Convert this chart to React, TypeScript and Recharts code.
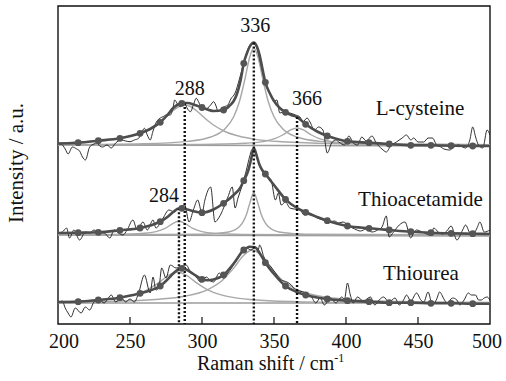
import React from "react";
import { ComposedChart, Line, XAxis, YAxis, ReferenceLine, ReferenceArea } from "recharts";

type Pair = [number, number];

const xTicks = [200, 250, 300, 350, 400, 450, 500];
const yTicks = [92, 171];
// fitted-curve sample points that carry a marker
const markerX = [214, 228, 243, 257, 271, 286, 300, 315, 329, 344, 358, 372, 387, 401, 416, 430, 445, 459, 473, 488];

// ---- L-cysteine (top), heights above its own baseline
const cysRaw: Pair[] = [
  [200, 1], [202, 1], [205, -4], [207, -9], [210, -2], [213, -4], [215, -6], [217, -12], [219, -15], [222, -2],
  [225, 1], [227, 2], [229, -1], [231, -2], [234, 0], [237, -3], [240, 2], [244, 5], [247, 4], [250, 3.3],
  [253, 5], [256, 6.7], [258, 12], [260, 16.7], [262, 10], [264, 5], [266, 14], [268, 22], [271, 27], [273, 28.3],
  [275, 30], [278, 30], [280, 38], [281, 45], [283, 41], [285, 38.3], [288, 41], [290, 36], [292, 33.3], [294, 40],
  [296, 46.7], [298, 42], [300, 35], [302, 36], [304, 37], [306, 40], [308, 43.3], [310, 38], [311, 33.3], [313, 36],
  [315, 38], [318, 40], [320, 46], [323, 52], [326, 66], [329, 82], [332, 96], [334, 101], [336, 101], [338, 97],
  [340, 86], [342, 73], [344, 62], [347, 52], [350, 44], [352, 45], [354, 32], [357, 33], [361, 32], [365, 30],
  [368, 28], [370, 23], [373, 27], [375, 23], [378, 15], [381, 18], [384, 15], [387, -8], [390, 2], [393, 5],
  [395, 3], [399, 0], [402, 9], [405, 2], [408, 0], [411, 8], [414, 4], [418, 9], [421, 2], [425, -4],
  [428, -7], [431, -1], [435, 3], [439, 7], [442, 10], [445, 5], [447, 7], [450, 3], [454, 3], [457, 7],
  [460, 7], [463, 0], [466, -2], [468, -4], [472, -5], [475, -2], [478, 0], [481, -2], [483, -3], [486, 5],
  [488, 18], [490, 8], [492, 0], [495, -3], [498, 15], [500, 10],
];
const cysFit: Pair[] = [
  [200, 1.5], [214, 2.3], [228, 4.3], [243, 6.7], [257, 11.7], [264, 16], [271, 22.7], [276, 30], [280, 37], [284, 41],
  [286, 41.7], [288, 42], [290, 42], [295, 40], [300, 37.5], [308, 34], [315, 35], [319, 39], [322, 44], [324, 50],
  [327, 66], [329, 81.7], [331, 91], [333, 98], [336, 102.5], [338, 99], [340, 90], [342, 76], [344, 62.7], [347, 52],
  [350, 44], [354, 37], [358, 32.7], [362, 30], [366, 28], [372, 20.7], [380, 13.5], [387, 9], [394, 6], [401, 3.7],
  [416, 2.3], [430, 1], [445, -0.3], [459, -0.3], [473, -0.7], [488, -1], [500, -1],
];
const cysMarks = [2.3, 4.3, 6.7, 11.7, 22.7, 41.7, 37.5, 35, 81.7, 62.7, 32.7, 20.7, 9, 3.7, 2.3, 1, -0.3, -0.3, -0.7, -1];
const cysBand288: Pair[] = [
  [200, 2], [220, 3.2], [240, 5.9], [250, 8.7], [260, 13.5], [268, 20], [274, 26.8], [280, 34.5], [284, 38.5], [288, 40],
  [292, 38.5], [296, 34.5], [302, 26.8], [308, 20], [316, 13.5], [326, 8.7], [336, 5.9], [356, 3.2], [376, 2], [420, 0.9], [500, 0.35],
];
const cysBand336: Pair[] = [
  [200, 0.4], [260, 1.3], [290, 3.6], [306, 8], [316, 16.3], [322, 28.3], [326, 43.5], [330, 67.2], [333, 87.3], [336, 97],
  [339, 87.3], [342, 67.2], [346, 43.5], [350, 28.3], [356, 16.3], [366, 8], [382, 3.6], [412, 1.3], [500, 0.3],
];
const cysBand366: Pair[] = [
  [200, 0.1], [300, 0.5], [330, 1.7], [342, 3.4], [350, 6.1], [356, 10], [362, 15.3], [366, 17], [370, 15.3], [376, 10],
  [382, 6.1], [390, 3.4], [402, 1.7], [432, 0.5], [500, 0.1],
];
const cysBase: Pair[] = [[200, 0], [500, -1]];

// ---- Thioacetamide (middle)
const thaRaw: Pair[] = [
  [200, 2], [203, 3], [206, 7], [208, -3], [211, 5], [215, -5], [219, 3], [222, 2], [225, 5], [228, 2],
  [232, 2], [236, -3], [239, 5], [242, 2], [245, 0], [248, 5], [252, 15], [255, 5], [259, 13], [262, 5],
  [266, 15], [268, 7], [273, 17], [277, 25], [281, 23], [284, 27], [288, 30], [291, 13], [294, 25], [297, 35],
  [300, 22], [302, 35], [306, 48], [309, 13], [312, 18], [318, 38], [321, 48], [323, 27], [325, 37], [328, 50],
  [331, 66], [333, 78], [335, 86], [337, 84], [339, 74], [341, 66], [344, 61], [346, 58], [348, 55], [351, 35],
  [353, 42], [355, 30], [358, 33], [361, 27], [364, 26], [368, 25], [371, 20], [375, 21], [380, 17], [384, 15],
  [388, 13], [392, 14], [395, 12], [398, 13], [402, 9], [406, 6], [410, 4], [414, 6], [418, 3], [422, 5],
  [425, 8], [428, 19], [430, -2], [433, 3], [437, 10], [441, 13], [445, -3], [447, 2], [449, 5], [453, 3],
  [456, 1], [459, 0], [461, 7], [464, 3], [467, 1], [470, 4], [473, 9], [477, -5], [481, 5], [483, 10],
  [486, 2], [488, 0], [491, 7], [493, 13], [496, 3], [500, 5],
];
const thaFit: Pair[] = [
  [200, 2], [214, 2.3], [228, 2.7], [243, 4.7], [257, 7], [264, 9.5], [271, 13.3], [276, 18], [280, 23], [284, 26.8],
  [286, 26.7], [290, 25.5], [295, 23.5], [300, 22.3], [308, 25.5], [315, 31.7], [322, 40], [326, 46], [329, 54.3], [332, 64],
  [334, 75], [336, 87], [338, 79], [340, 70], [342, 64.5], [344, 61], [350, 50], [358, 35.7], [366, 27], [372, 22.7],
  [380, 18], [387, 14.3], [394, 11.3], [401, 9], [416, 6.7], [430, 5], [445, 3.3], [459, 2.3], [473, 1.7], [488, 1.3], [500, 1],
];
const thaMarks = [2.3, 2.7, 4.7, 7, 13.3, 26.7, 22.3, 31.7, 54.3, 61, 35.7, 22.7, 14.3, 9, 6.7, 5, 3.3, 2.3, 1.7, 1.3];
const thaBand284: Pair[] = [
  [200, 0.2], [240, 0.6], [260, 1.7], [268, 3.4], [274, 6.3], [280, 11.7], [284, 14], [288, 11.7], [294, 6.3], [300, 3.4],
  [308, 1.7], [328, 0.6], [400, 0.1], [500, 0],
];
const thaBand336: Pair[] = [
  [200, 0], [300, 0.8], [316, 2.5], [324, 6.2], [328, 11.8], [331, 21], [333, 30.9], [336, 42], [339, 30.9], [341, 21],
  [344, 11.8], [348, 6.2], [356, 2.5], [372, 0.8], [500, 0],
];
const thaBase: Pair[] = [[200, 0], [500, -1]];

// ---- Thiourea (bottom)
const thuRaw: Pair[] = [
  [200, 0], [203, 2], [205, -5], [207, -10], [209, -14], [212, -5], [216, -10], [219, -4], [222, -7], [225, 1],
  [229, 3], [232, 0], [235, 5], [237, 8], [240, 1], [244, 5], [247, 1], [250, 4], [253, 1], [256, 10],
  [260, 28], [264, 10], [266, 26], [268, 13], [270, 15], [272, 35], [275, 25], [278, 38], [282, 35], [285, 36],
  [289, 38], [292, 31], [296, 26], [299, 21], [303, 26], [306, 22], [308, 21], [312, 30], [315, 25], [318, 30],
  [321, 36], [324, 43], [328, 53], [331, 55], [334, 53], [337, 56], [339, 53], [340, 58], [343, 46], [345, 41],
  [348, 36], [352, 28], [355, 23], [359, 21], [362, 18], [365, 13], [368, 12], [372, 10], [376, 6], [379, 0],
  [382, 5], [385, -2], [389, 5], [393, 0], [397, 6], [399, 4], [401, 20], [403, 8], [405, 0], [408, 6],
  [412, 2], [417, 6], [420, -2], [423, 3], [426, 6], [430, 1], [434, 5], [437, -2], [440, 3], [442, 8],
  [445, 2], [449, 10], [452, 3], [454, 1], [457, 11], [460, -2], [463, 4], [465, 11], [468, 4], [470, 0],
  [474, 5], [477, 3], [479, -2], [482, 3], [485, 10], [487, 8], [490, 8], [492, 3], [494, 3], [496, 5],
  [498, 6], [500, 3],
];
const thuFit: Pair[] = [
  [200, 1], [214, 1.3], [228, 3], [243, 5.3], [257, 9.7], [264, 12.5], [271, 17], [276, 23.5], [280, 29.5], [284, 34],
  [286, 34.7], [289, 33.5], [294, 29], [300, 23.7], [304, 22.8], [308, 23.5], [315, 28], [322, 39.5], [329, 53], [333, 56.3],
  [337, 55.5], [340, 50], [344, 40.3], [350, 29], [358, 17], [365, 11.5], [372, 8], [380, 5.5], [387, 4], [401, 2.3],
  [416, 1.3], [430, 0.3], [445, 0.3], [459, -0.3], [473, -0.3], [488, -0.7], [500, -0.7],
];
const thuMarks = [1.3, 3, 5.3, 9.7, 17, 34.7, 23.7, 28, 53, 40.3, 17, 8, 4, 2.3, 1.3, 0.3, 0.3, -0.3, -0.3, -0.7];
const thuBand283: Pair[] = [
  [200, 1.4], [220, 2.3], [240, 4.6], [252, 7.8], [262, 13.1], [270, 20.4], [277, 27.9], [283, 31], [289, 27.9], [296, 20.4],
  [304, 13.1], [314, 7.8], [326, 4.6], [346, 2.3], [366, 1.4], [420, 0.5], [500, 0.2],
];
const thuBand335: Pair[] = [
  [200, 0.9], [240, 1.8], [270, 3.8], [287, 6.5], [304, 13.4], [314, 22.5], [322, 34.9], [329, 47.7], [335, 53], [341, 47.7],
  [348, 34.9], [356, 22.5], [366, 13.4], [383, 6.5], [400, 3.8], [430, 1.8], [500, 0.6],
];
const thuBase: Pair[] = [[200, 0], [500, 0]];

const spectra = [
  { key: "cys", offset: 179, raw: cysRaw, fit: cysFit, marks: cysMarks, bands: [cysBand288, cysBand336, cysBand366], base: cysBase },
  { key: "tha", offset: 89, raw: thaRaw, fit: thaFit, marks: thaMarks, bands: [thaBand284, thaBand336], base: thaBase },
  { key: "thu", offset: 21, raw: thuRaw, fit: thuFit, marks: thuMarks, bands: [thuBand283, thuBand335], base: thuBase },
];

// dotted peak markers: position, spectrum index, label nudge
const peaks = [
  { x: 288, s: 0, dx: 5, dy: 8 },
  { x: 336, s: 0, dx: 1.5, dy: 11 },
  { x: 366, s: 0, dx: 10, dy: 12 },
  { x: 284, s: 1, dx: -15, dy: 6.5 },
];

const SERIF = '"Liberation Serif", "DejaVu Serif", serif';
const txt = (size: number): React.CSSProperties => ({ fontFamily: SERIF, fontSize: size });
const rows = (pairs: Pair[], off: number) => pairs.map(([x, h]) => ({ x, y: off + h }));

function XTick({ x, y, payload }: any) {
  const v = payload.value;
  const nudge = v === 200 ? 6 : v === 500 ? -3 : 0.5;
  return (
    <g>
      {v !== 200 && v !== 500 && <line x1={x} x2={x} y1={y} y2={y - 7} stroke="#111" strokeWidth={1.2} />}
      <text x={x + nudge} y={y + 23.7} textAnchor="middle" style={txt(20)} fill="#111">
        {v}
      </text>
    </g>
  );
}

function YTick({ x, y }: any) {
  return <line x1={x} x2={x + 4} y1={y} y2={y} stroke="#111" strokeWidth={1.2} />;
}

export default function App() {
  return (
    <div style={{ position: "fixed", left: 0, top: 0, width: 506, height: 381, background: "#fff" }}>
      <ComposedChart width={506} height={381} margin={{ top: 6, right: 16, bottom: 27, left: 58 }}>
        <XAxis
          dataKey="x"
          type="number"
          domain={[200, 500]}
          ticks={xTicks}
          interval={0}
          height={30}
          axisLine={false}
          tickLine={false}
          tickSize={0}
          tickMargin={0}
          tick={<XTick />}
          allowDataOverflow
        />
        <YAxis
          type="number"
          domain={[0, 318]}
          ticks={yTicks}
          interval={0}
          width={0}
          axisLine={false}
          tickLine={false}
          tickSize={0}
          tickMargin={0}
          tick={<YTick />}
          allowDataOverflow
        />
        {spectra.map((sp) => [
          <Line key={sp.key + "-base"} data={rows(sp.base, sp.offset)} dataKey="y" type="linear" stroke="#9c9c9c" strokeWidth={1.6} dot={false} activeDot={false} isAnimationActive={false} />,
          ...sp.bands.map((b, i) => (
            <Line key={sp.key + "-band" + i} data={rows(b, sp.offset)} dataKey="y" type="monotone" stroke="#a8a8a8" strokeWidth={1.4} dot={false} activeDot={false} isAnimationActive={false} />
          )),
          <Line key={sp.key + "-raw"} data={rows(sp.raw, sp.offset)} dataKey="y" type="monotone" stroke="#1a1a1a" strokeWidth={0.9} dot={false} activeDot={false} isAnimationActive={false} />,
          <Line key={sp.key + "-fit"} data={rows(sp.fit, sp.offset)} dataKey="y" type="monotone" stroke="#4d4d4d" strokeWidth={2.6} dot={false} activeDot={false} isAnimationActive={false} />,
          <Line
            key={sp.key + "-marks"}
            data={markerX.map((x, i) => ({ x, y: sp.offset + sp.marks[i] }))}
            dataKey="y"
            stroke="none"
            dot={{ r: 3.4, fill: "#555", stroke: "#555", strokeWidth: 0 }}
            activeDot={false}
            isAnimationActive={false}
          />,
        ])}
        {peaks.map((p) => {
          const sp = spectra[p.s];
          const hit = sp.fit.find((f) => f[0] === p.x);
          const top = sp.offset + (hit ? hit[1] : 0);
          return (
            <ReferenceLine
              key={"peak" + p.x}
              segment={[{ x: p.x, y: top }, { x: p.x, y: 0 }]}
              stroke="#111"
              strokeWidth={2.4}
              strokeDasharray="2 2"
              label={(props: any) => (
                <text
                  x={props.viewBox.x + p.dx}
                  y={props.viewBox.y - p.dy}
                  textAnchor="middle"
                  style={txt(20)}
                  fill="#111"
                >
                  {p.x}
                </text>
              )}
            />
          );
        })}
        <ReferenceArea x1={200} x2={500} y1={0} y2={318} fill="none" fillOpacity={0} stroke="#111" strokeWidth={1.4} />
      </ComposedChart>
      <svg width={506} height={381} style={{ position: "absolute", left: 0, top: 0, pointerEvents: "none" }}>
        <g fill="#111">
          <text x={420} y={115} textAnchor="middle" style={txt(21)}>L-cysteine</text>
          <text x={420.5} y={206} textAnchor="middle" style={txt(21)}>Thioacetamide</text>
          <text x={421} y={280} textAnchor="middle" style={txt(21)}>Thiourea</text>
          <text x={197} y={370} style={txt(20)}>
            Raman shift / cm
            <tspan dy={-8} style={{ fontSize: 12 }}>-1</tspan>
          </text>
          <text transform="translate(23,163) rotate(-90)" textAnchor="middle" style={txt(20)} textLength={120} lengthAdjust="spacingAndGlyphs">
            Intensity / a.u.
          </text>
        </g>
      </svg>
    </div>
  );
}
